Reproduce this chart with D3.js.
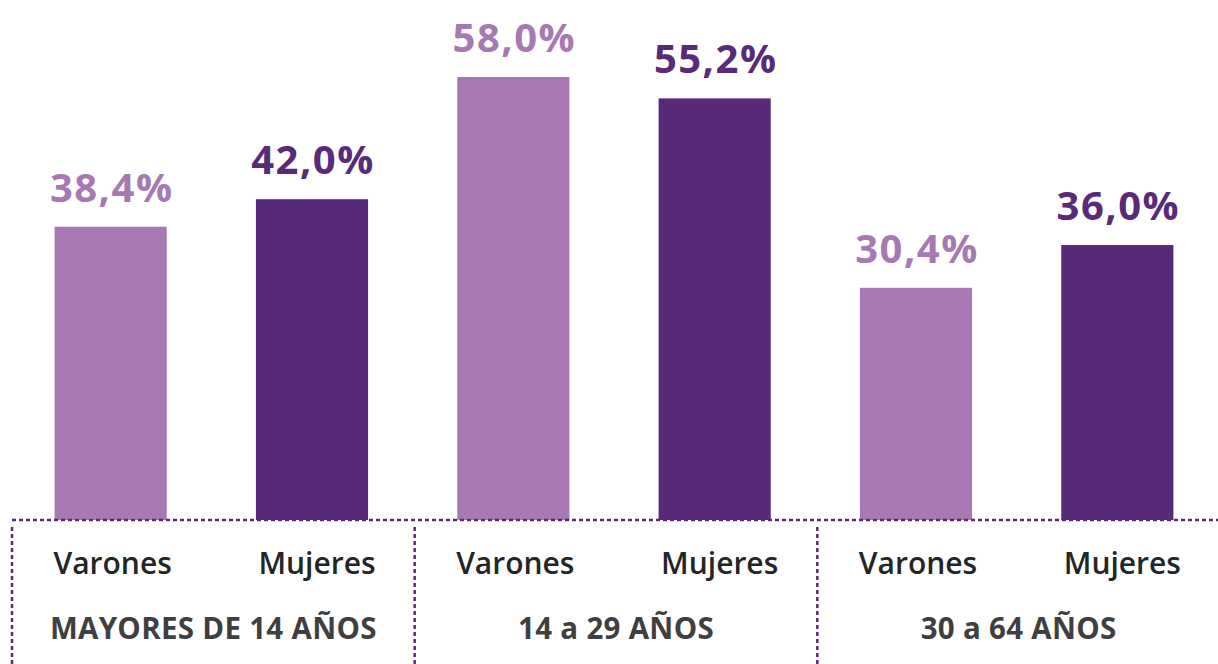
<!DOCTYPE html>
<html>
<head>
<meta charset="utf-8">
<script src="https://cdn.jsdelivr.net/npm/d3@7"></script>
<style>
  body { margin: 0; background: #fff; }
  svg { display: block; font-family: "Open Sans", sans-serif; }
</style>
</head>
<body>
<svg id="chart" width="1218" height="664"></svg>
<script>
const groups = ["MAYORES DE 14 AÑOS", "14 a 29 AÑOS", "30 a 64 AÑOS"];
const sexes = ["Varones", "Mujeres"];
const varones = [38.4, 58.0, 30.4];
const mujeres = [42.0, 55.2, 36.0];
const colors = ["#a778b4", "#59297a"];

const rows = [];
groups.forEach((g, i) => {
  rows.push({ key: g + "|0", group: i, sex: 0, value: varones[i] });
  rows.push({ key: g + "|1", group: i, sex: 1, value: mujeres[i] });
});

const width = 1218, height = 664;
const baseline = 520;

const x = d3.scaleBand().domain(rows.map(d => d.key)).range([10, 1218]).paddingInner(0.443).paddingOuter(0.2215);
const y = d3.scaleLinear().domain([0, 58]).range([baseline, 77]);

const fmt = v => d3.format(".1f")(v).replace(".", ",") + "%";

const svg = d3.select("#chart");

// bars
svg.append("g").selectAll("rect").data(rows).join("rect")
  .attr("x", d => x(d.key))
  .attr("y", d => y(d.value))
  .attr("width", x.bandwidth())
  .attr("height", d => baseline - y(d.value))
  .attr("fill", d => colors[d.sex]);

// value labels
svg.append("g").selectAll("text").data(rows).join("text")
  .attr("x", d => x(d.key) + x.bandwidth() / 2 + 1)
  .attr("y", d => y(d.value) - 25)
  .attr("text-anchor", "middle")
  .attr("font-size", 40)
  .attr("font-weight", 700)
  .attr("letter-spacing", 1.5)
  .attr("fill", d => colors[d.sex])
  .text(d => fmt(d.value));

// dotted frame
const gap = x.step() - x.bandwidth();
const dash = "4,3";
svg.append("line")
  .attr("x1", 12).attr("x2", width)
  .attr("y1", baseline).attr("y2", baseline)
  .attr("stroke", colors[1]).attr("stroke-width", 2.5).attr("stroke-dasharray", dash);

svg.append("g").selectAll("line").data(groups).join("line")
  .attr("x1", (g, i) => x(g + "|0") - gap / 2 + 2)
  .attr("x2", (g, i) => x(g + "|0") - gap / 2 + 2)
  .attr("y1", baseline + 7).attr("y2", height)
  .attr("stroke", colors[1]).attr("stroke-width", 2.5).attr("stroke-dasharray", dash);

// sex labels
svg.append("g").selectAll("text").data(rows).join("text")
  .attr("x", d => x(d.key) + x.bandwidth() / 2 + (d.sex ? 5 : 2))
  .attr("y", 574)
  .attr("text-anchor", "middle")
  .attr("font-size", 30)
  .attr("font-weight", 600)
  .attr("fill", "#222627")
  .text(d => sexes[d.sex]);

// group labels
svg.append("g").selectAll("text").data(groups).join("text")
  .attr("x", g => (x(g + "|0") + x(g + "|1") + x.bandwidth()) / 2 + 2)
  .attr("y", 639)
  .attr("text-anchor", "middle")
  .attr("font-size", 29.5)
  .attr("font-weight", 700)
  .attr("letter-spacing", 0.3)
  .attr("fill", "#3f3f3f")
  .text(g => g);
</script>
</body>
</html>
